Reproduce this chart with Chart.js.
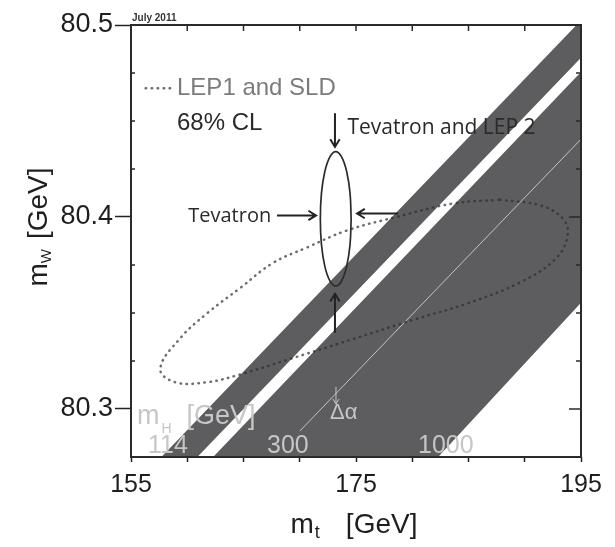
<!DOCTYPE html>
<html>
<head>
<meta charset="utf-8">
<script src="https://cdn.jsdelivr.net/npm/chart.js@4.4.0/dist/chart.umd.min.js"></script>
<style>
  body { margin: 0; background: #fff; }
  #wrap { width: 615px; height: 547px; }
</style>
</head>
<body>
<div id="wrap"><canvas id="chart"></canvas></div>
<script>
// axis ticks that carry a label
const mtTickLabels = [155, 175, 195];
const mwTickLabels = [80.3, 80.4, 80.5];

// SM band (mH 114 .. 1000 GeV), corners where its edges meet the frame
const upperBandMt = [157.7, 194.6, 195.0, 195.0, 160.9];
const upperBandMw = [80.275, 80.5, 80.5, 80.483, 80.275];
const lowerBandMt = [162.3, 195.0, 195.0, 182.3];
const lowerBandMw = [80.275, 80.4755, 80.3553, 80.275];

// thin line for the delta-alpha shift
const deltaAlphaMt = [170.0, 197.0];
const deltaAlphaMw = [80.2885, 80.4527];

// LEP1 and SLD 68% CL contour
const lepSldMt = [187.8, 191.4, 193.4, 193.8, 192.7, 189.6, 184.9, 180.4, 174.5, 169.1, 164.7, 161.8, 158.9,
                  157.6, 159.4, 161.8, 164.7, 167.6, 170.6, 174.2, 178.6, 183.6, 187.8];
const lepSldMw = [80.409, 80.406, 80.399, 80.390, 80.378, 80.366, 80.355, 80.347, 80.336, 80.326, 80.318, 80.314, 80.314,
                  80.321, 80.337, 80.350, 80.363, 80.376, 80.384, 80.393, 80.400, 80.407, 80.409];

// Tevatron 68% CL contour
const tevatronMt = [174.57, 174.47, 174.17, 173.72, 173.20, 172.68, 172.23, 171.93, 171.83,
                    171.93, 172.23, 172.68, 173.20, 173.72, 174.17, 174.47, 174.57];
const tevatronMw = [80.399, 80.4124, 80.4237, 80.4313, 80.434, 80.4313, 80.4237, 80.4124, 80.399,
                    80.3856, 80.3743, 80.3667, 80.364, 80.3667, 80.3743, 80.3856, 80.399];

const higgsLabels = ['114', '300', '1000'];

const SANS = "'Liberation Sans', Arial, sans-serif";
const HUMAN = "'Open Sans', sans-serif";
const GREY_TEXT = '#c6c6c6';
const DOTS = 'rgba(45,45,45,0.7)';

function toXY(xs, ys) {
    return xs.map((v, i) => ({ x: v, y: ys[i] }));
}

function isMajorMw(v) {
    return mwTickLabels.some(t => Math.abs(t - v) < 1e-6);
}

// annotation layout (data coordinates)
const arrows = [
    { from: [173.13, 80.454], to: [173.13, 80.4365], color: '#222', width: 2 },
    { from: [167.98, 80.4008], to: [171.45, 80.4008], color: '#222', width: 2 },
    { from: [178.73, 80.4018], to: [175.10, 80.4018], color: '#222', width: 2 },
    { from: [173.13, 80.3397], to: [173.13, 80.3600], color: '#222', width: 2 },
    { from: [173.22, 80.3115], to: [173.22, 80.3026], color: GREY_TEXT, width: 1 }
];

const notes = [
    { text: 'Tevatron and LEP 2', at: [174.24, 80.4434], font: '21px ' + HUMAN, color: '#2a2a2a' },
    { text: 'Tevatron', at: [160.09, 80.3973], font: '20px ' + HUMAN, color: '#2a2a2a' },
    { text: 'LEP1 and SLD', at: [159.09, 80.4634], font: '24px ' + SANS, color: '#7b7b7b' },
    { text: '68% CL', at: [159.09, 80.4452], font: '24px ' + SANS, color: '#2a2a2a' },
    { text: 'July 2011', at: [155.09, 80.5021], font: 'bold 10px ' + SANS, color: '#333' },
    { text: higgsLabels[0], at: [156.51, 80.277], font: '25px ' + SANS, color: GREY_TEXT },
    { text: higgsLabels[1], at: [167.09, 80.277], font: '25px ' + SANS, color: GREY_TEXT },
    { text: higgsLabels[2], at: [180.51, 80.277], font: '25px ' + SANS, color: GREY_TEXT },
    { text: 'Δα', at: [172.69, 80.2948], font: '22px ' + SANS, color: GREY_TEXT }
];

function drawArrow(ctx, x0, y0, x1, y1, color, width) {
    const ang = Math.atan2(y1 - y0, x1 - x0);
    const head = width > 1 ? 9 : 6;
    ctx.strokeStyle = color;
    ctx.lineWidth = width;
    ctx.beginPath();
    ctx.moveTo(x0, y0);
    ctx.lineTo(x1, y1);
    ctx.moveTo(x1 - head * Math.cos(ang - 0.55), y1 - head * Math.sin(ang - 0.55));
    ctx.lineTo(x1, y1);
    ctx.lineTo(x1 - head * Math.cos(ang + 0.55), y1 - head * Math.sin(ang + 0.55));
    ctx.stroke();
}

function drawParts(ctx, parts, x, y, center) {
    let total = 0;
    parts.forEach(p => {
        ctx.font = p.font;
        p.w = ctx.measureText(p.text).width;
        total += (p.gap || 0) + p.w;
    });
    let cx = center ? x - total / 2 : x;
    parts.forEach(p => {
        cx += p.gap || 0;
        ctx.font = p.font;
        ctx.fillText(p.text, cx, y + (p.dy || 0));
        cx += p.w;
    });
}

const frameAndNotes = {
    id: 'frameAndNotes',
    afterDatasetsDraw(chart) {
        const { ctx, chartArea: a, scales: { x, y } } = chart;
        const px = v => x.getPixelForValue(v);
        const py = v => y.getPixelForValue(v);
        ctx.save();

        // frame and inner ticks
        ctx.strokeStyle = '#2a2a2a';
        ctx.lineWidth = 2;
        ctx.strokeRect(a.left, a.top, a.right - a.left, a.bottom - a.top);
        ctx.lineWidth = 1.5;
        ctx.beginPath();
        x.ticks.forEach(t => {
            const p = px(t.value);
            ctx.moveTo(p, a.top);
            ctx.lineTo(p, a.top + 6);
        });
        y.ticks.forEach(t => {
            const p = py(t.value);
            const len = isMajorMw(t.value) ? 12 : 5;
            ctx.moveTo(a.right, p);
            ctx.lineTo(a.right - len, p);
            if (!isMajorMw(t.value)) {
                ctx.moveTo(a.left, p);
                ctx.lineTo(a.left + 4, p);
            }
        });
        ctx.stroke();

        // arrows
        arrows.forEach(ar => drawArrow(ctx, px(ar.from[0]), py(ar.from[1]), px(ar.to[0]), py(ar.to[1]), ar.color, ar.width));

        // texts
        ctx.textBaseline = 'alphabetic';
        ctx.textAlign = 'left';
        notes.forEach(n => {
            ctx.font = n.font;
            ctx.fillStyle = n.color;
            ctx.fillText(n.text, px(n.at[0]), py(n.at[1]));
        });

        // legend sample for the dotted contour
        ctx.strokeStyle = DOTS;
        ctx.lineWidth = 2.5;
        ctx.lineCap = 'round';
        ctx.setLineDash([0.5, 5.5]);
        ctx.beginPath();
        ctx.moveTo(px(156.3), py(80.4671));
        ctx.lineTo(px(158.6), py(80.4671));
        ctx.stroke();
        ctx.setLineDash([]);

        // mH [GeV] inside the frame
        ctx.fillStyle = GREY_TEXT;
        drawParts(ctx, [
            { text: 'm', font: '27px ' + SANS },
            { text: 'H', font: '14px ' + SANS, dy: 9, gap: 2 },
            { text: '[GeV]', font: '27px ' + SANS, gap: 15 }
        ], px(155.53), py(80.2922), false);

        // axis titles
        ctx.fillStyle = '#1e1e1e';
        drawParts(ctx, [
            { text: 'm', font: '28px ' + SANS },
            { text: 't', font: '18px ' + SANS, dy: 5, gap: 1 },
            { text: '[GeV]', font: '28px ' + SANS, gap: 26 }
        ], 354, 533, true);

        ctx.translate(47, 227);
        ctx.rotate(-Math.PI / 2);
        drawParts(ctx, [
            { text: 'm', font: '28px ' + SANS },
            { text: 'W', font: '15px ' + SANS, dy: 4, gap: 0 },
            { text: '[GeV]', font: '28px ' + SANS, gap: 10 }
        ], 0, 0, true);

        ctx.restore();
    }
};

Chart.defaults.font.family = SANS;

new Chart(document.getElementById('chart'), {
    type: 'line',
    data: {
        datasets: [
            {
                label: 'Tevatron',
                data: toXY(tevatronMt, tevatronMw),
                borderColor: '#2b2b2b',
                borderWidth: 1.7,
                tension: 0.4,
                pointRadius: 0,
                fill: false,
                order: 0
            },
            {
                label: 'LEP1 and SLD',
                data: toXY(lepSldMt, lepSldMw),
                borderColor: DOTS,
                borderWidth: 2.5,
                borderDash: [0.5, 5.5],
                borderCapStyle: 'round',
                tension: 0.4,
                pointRadius: 0,
                fill: false,
                order: 1
            },
            {
                label: 'Delta alpha',
                data: toXY(deltaAlphaMt, deltaAlphaMw),
                borderColor: '#c4c4c4',
                borderWidth: 1,
                pointRadius: 0,
                fill: false,
                order: 2
            },
            {
                label: 'SM band',
                data: toXY(upperBandMt, upperBandMw),
                borderWidth: 0,
                borderColor: 'rgba(0,0,0,0)',
                backgroundColor: '#5d5d5f',
                pointRadius: 0,
                fill: 'shape',
                order: 3
            },
            {
                label: 'SM band',
                data: toXY(lowerBandMt, lowerBandMw),
                borderWidth: 0,
                borderColor: 'rgba(0,0,0,0)',
                backgroundColor: '#5d5d5f',
                pointRadius: 0,
                fill: 'shape',
                order: 3
            }
        ]
    },
    options: {
        responsive: true,
        maintainAspectRatio: false,
        animation: false,
        events: [],
        layout: { padding: { top: 25, right: 34, left: 0, bottom: 0 } },
        plugins: {
            legend: { display: false },
            tooltip: { enabled: false }
        },
        scales: {
            x: {
                type: 'linear',
                min: 155,
                max: 195,
                border: { display: false },
                grid: { drawOnChartArea: false, tickLength: 5, tickWidth: 1.5, tickColor: '#222' },
                ticks: {
                    stepSize: 5,
                    autoSkip: false,
                    maxRotation: 0,
                    padding: 8,
                    color: '#1e1e1e',
                    font: { size: 25 },
                    callback: v => mtTickLabels.includes(v) ? String(v) : ''
                },
                afterFit: s => { s.height = 90; }
            },
            y: {
                type: 'linear',
                min: 80.275,
                max: 80.5,
                border: { display: false },
                grid: {
                    drawOnChartArea: false,
                    tickLength: 16,
                    tickWidth: 1.5,
                    tickColor: c => (c.tick && isMajorMw(c.tick.value)) ? '#222' : 'rgba(0,0,0,0)'
                },
                ticks: {
                    stepSize: 0.025,
                    autoSkip: false,
                    padding: 2,
                    color: '#1e1e1e',
                    font: { size: 27 },
                    callback: v => isMajorMw(v) ? v.toFixed(1) : ''
                },
                afterFit: s => { s.width = 131; }
            }
        }
    },
    plugins: [frameAndNotes]
});
</script>
</body>
</html>
